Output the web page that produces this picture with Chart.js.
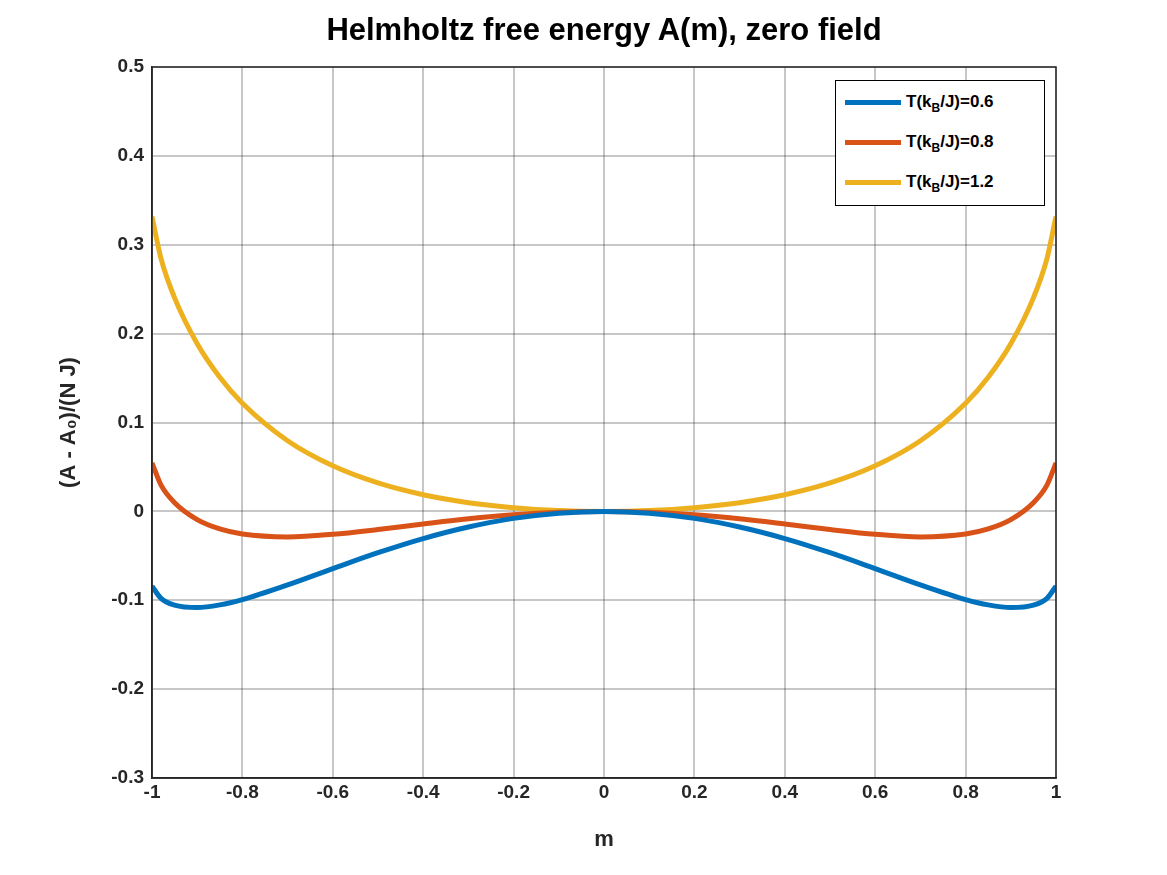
<!DOCTYPE html>
<html>
<head>
<meta charset="utf-8">
<script src="https://cdn.jsdelivr.net/npm/chart.js@4/dist/chart.umd.min.js"></script>
<style>
  body { margin: 0; background: #fff; font-family: "Liberation Sans", Arial, sans-serif; }
  #wrap { position: relative; width: 1167px; height: 875px; }
  #title { position: absolute; top: 12px; left: 152px; width: 904px; text-align: center; font-weight: bold; font-size: 31px; color: #000; }
  #legend { position: absolute; left: 835px; top: 80px; width: 208px; height: 124px; border: 1.5px solid #000; background: #fff; font-weight: bold; font-size: 17px; }
  .row { position: absolute; left: 9px; height: 30px; display: flex; align-items: center; white-space: nowrap; }
  .swatch { width: 56px; height: 5px; margin-right: 5px; }
  .sub { font-size: 12px; position: relative; top: 5px; }
</style>
</head>
<body>
<div id="wrap">
  <canvas id="c" width="1167" height="875"></canvas>
  <div id="title">Helmholtz free energy A(m), zero field</div>
  <div id="legend"></div>
</div>
<script>
const mValues = [-1, -0.98, -0.95, -0.9, -0.85, -0.8, -0.7, -0.6, -0.5, -0.4, -0.3, -0.2, -0.1, 0,
                 0.1, 0.2, 0.3, 0.4, 0.5, 0.6, 0.7, 0.8, 0.85, 0.9, 0.95, 0.98, 1];
const seriesT06 = [-0.0841, -0.0979, -0.1055, -0.1082, -0.1052, -0.0992, -0.0827, -0.0644, -0.0465, -0.0306, -0.0176, -0.0079, -0.0020, 0,
                   -0.0020, -0.0079, -0.0176, -0.0306, -0.0465, -0.0644, -0.0827, -0.0992, -0.1052, -0.1082, -0.1055, -0.0979, -0.0841];
const seriesT08 = [0.0545, 0.0295, 0.0097, -0.0093, -0.0198, -0.0255, -0.0287, -0.0258, -0.0204, -0.0142, -0.0084, -0.0039, -0.0010, 0,
                   -0.0010, -0.0039, -0.0084, -0.0142, -0.0204, -0.0258, -0.0287, -0.0255, -0.0198, -0.0093, 0.0097, 0.0295, 0.0545];
const seriesT12 = [0.3318, 0.2844, 0.2402, 0.1886, 0.1509, 0.1217, 0.0795, 0.0513, 0.0320, 0.0187, 0.0098, 0.0042, 0.0010, 0,
                   0.0010, 0.0042, 0.0098, 0.0187, 0.0320, 0.0513, 0.0795, 0.1217, 0.1509, 0.1886, 0.2402, 0.2844, 0.3318];
const seriesLabels = ['0.6', '0.8', '1.2'];
const colors = ['#0072BD', '#D95319', '#EDB120'];

const allSeries = [seriesT06, seriesT08, seriesT12];
const datasets = allSeries.map((s, i) => ({
    data: mValues.map((m, j) => ({ x: m, y: s[j] })),
    borderColor: colors[i],
    borderWidth: 5,
    pointRadius: 0,
    showLine: true,
    cubicInterpolationMode: 'monotone',
    fill: false
}));

// HTML legend so the subscript B can be real text
const legend = document.getElementById('legend');
seriesLabels.forEach((t, i) => {
    legend.insertAdjacentHTML('beforeend',
        `<div class="row" style="top:${6 + i * 40}px"><div class="swatch" style="background:${colors[i]}"></div><span>T(k<span class="sub">B</span>/J)=${t}</span></div>`);
});

const boxPlugin = {
    id: 'box',
    afterDraw(chart) {
        const { ctx, chartArea: a } = chart;
        ctx.save();
        ctx.strokeStyle = '#262626';
        ctx.lineWidth = 1.5;
        ctx.strokeRect(a.left, a.top, a.right - a.left, a.bottom - a.top);
        ctx.restore();
    }
};

const tickFont = { family: 'Liberation Sans', size: 19, weight: 'bold' };
new Chart(document.getElementById('c'), {
    type: 'scatter',
    data: { datasets },
    plugins: [boxPlugin],
    options: {
        responsive: false,
        animation: false,
        layout: { padding: { top: 67, right: 111, left: 56, bottom: 22 } },
        plugins: { legend: { display: false }, tooltip: { enabled: false } },
        scales: {
            x: {
                type: 'linear', min: -1, max: 1,
                afterFit: s => { s.height = 75; },
                ticks: { stepSize: 0.2, color: '#262626', font: tickFont, padding: 3,
                         callback: v => Math.round(v * 10) / 10 },
                grid: { color: 'rgba(0,0,0,0.22)', lineWidth: 2, drawTicks: false },
                border: { color: '#262626', width: 1.5 },
                title: { display: true, text: 'm', color: '#262626', font: { family: 'Liberation Sans', size: 22, weight: 'bold' }, padding: 0 }
            },
            y: {
                type: 'linear', min: -0.3, max: 0.5,
                afterFit: s => { s.width = 96; },
                ticks: { stepSize: 0.1, color: '#262626', font: tickFont, padding: 8,
                         callback: v => Math.round(v * 10) / 10 },
                grid: { color: 'rgba(0,0,0,0.22)', lineWidth: 2, drawTicks: false },
                border: { color: '#262626', width: 1.5 },
                title: { display: true, text: '(A - A₀)/(N J)', color: '#262626', font: { family: 'Liberation Sans', size: 22, weight: 'bold' }, padding: 0 }
            }
        }
    }
});
</script>
</body>
</html>
